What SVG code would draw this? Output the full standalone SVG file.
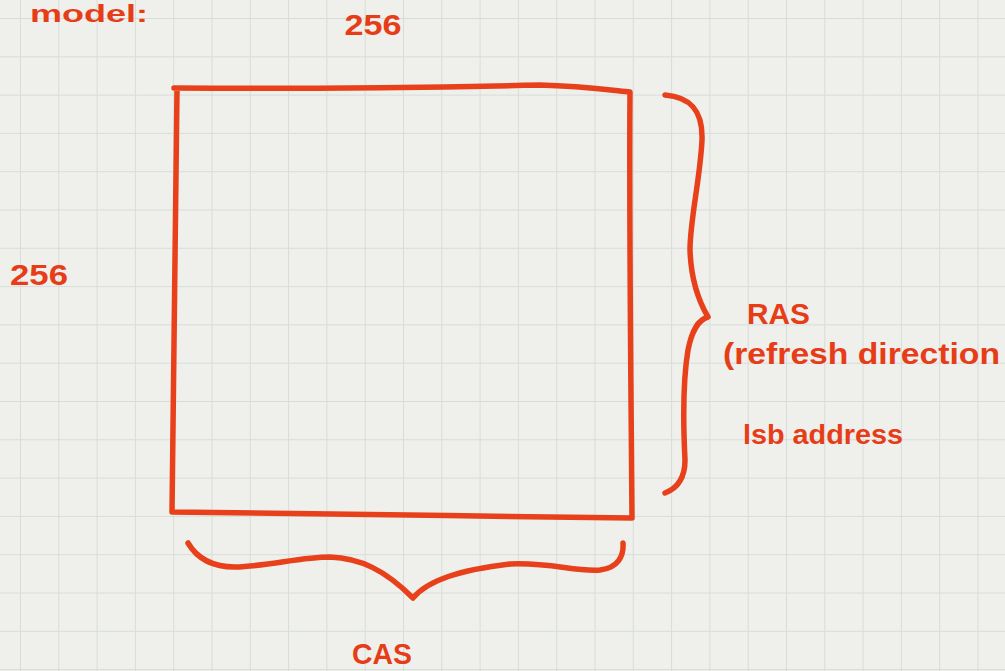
<svg xmlns="http://www.w3.org/2000/svg" width="1005" height="671" viewBox="0 0 1005 671">
  <defs>
    <pattern id="grid" x="20" y="18" width="38.3" height="38.3" patternUnits="userSpaceOnUse">
      <path d="M0 0 V38.3 M0 0 H38.3" fill="none" stroke="#d6ddd9" stroke-width="2"/>
    </pattern>
    <style>
      .ink { fill: none; stroke: #e8401a; stroke-width: 5.5; stroke-linecap: round; stroke-linejoin: round; }
      .lbl { font-family: "Liberation Sans", Arial, sans-serif; font-weight: bold; fill: #e63d18; }
    </style>
  </defs>
  <rect width="1005" height="671" fill="#efefeb"/>
  <rect width="1005" height="671" fill="url(#grid)"/>

  <g id="title">
    <text class="lbl" x="30" y="22" font-size="24" textLength="118" lengthAdjust="spacingAndGlyphs">model:</text>
  </g>

  <g id="array">
    <path class="ink" d="M174 88 C300 89 450 87 540 85 C580 86 610 90 630 92 C629 230 631 380 632 518 C480 516 320 514 172 512 C174 370 176 230 177 90"/>
  </g>

  <g id="label-cols">
    <text class="lbl" x="373" y="35" font-size="30" text-anchor="middle" textLength="57" lengthAdjust="spacingAndGlyphs">256</text>
  </g>
  <g id="label-rows">
    <text class="lbl" x="39" y="285" font-size="30" text-anchor="middle" textLength="58" lengthAdjust="spacingAndGlyphs">256</text>
  </g>

  <g id="connectors">
    <path id="brace-ras" class="ink" d="M665 95 C690 97 703 110 702 140 C700 180 690 220 690 250 C691 280 698 300 708 317 C698 320 692 330 688 350 C683 380 683 420 685 460 C685 478 678 488 665 493"/>
    <path id="brace-cas" class="ink" d="M188 543 C198 560 215 567 235 567 C270 566 300 557 330 557 C360 558 385 570 413 598 C428 580 460 570 510 564 C550 562 575 572 600 570 C618 568 624 556 623 543"/>
  </g>

  <g id="label-ras">
    <text class="lbl" x="747" y="324" font-size="30" textLength="63" lengthAdjust="spacingAndGlyphs">RAS</text>
    <text class="lbl" x="723" y="364" font-size="30" textLength="277" lengthAdjust="spacingAndGlyphs">(refresh direction</text>
    <text class="lbl" x="743" y="444" font-size="28" textLength="160" lengthAdjust="spacingAndGlyphs">lsb address</text>
  </g>
  <g id="label-cas">
    <text class="lbl" x="382" y="664" font-size="30" text-anchor="middle" textLength="60" lengthAdjust="spacingAndGlyphs">CAS</text>
  </g>
</svg>
